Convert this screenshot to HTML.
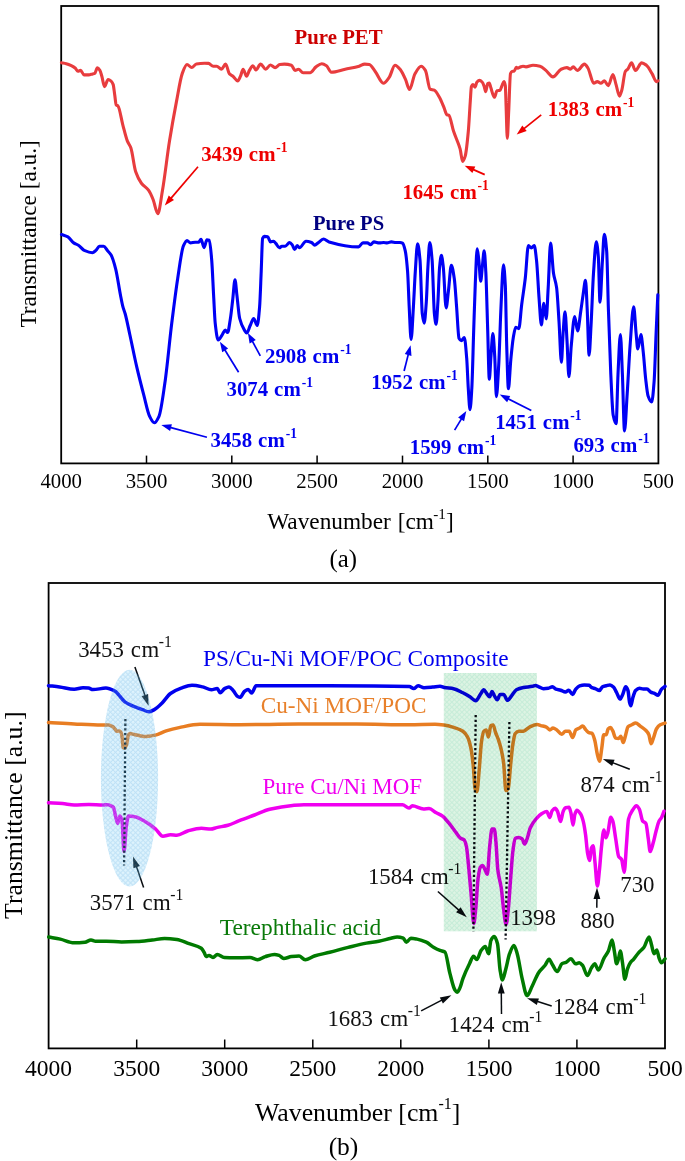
<!DOCTYPE html>
<html><head><meta charset="utf-8"><style>
html,body{margin:0;padding:0;background:#fff;overflow:hidden;}
svg{display:block;}
text{font-family:"Liberation Serif",serif;}
.tk{font-size:20.8px;text-anchor:middle;}
.tkb{font-size:23.5px;text-anchor:middle;}
</style></head><body>
<svg width="685" height="1161" viewBox="0 0 685 1161">
<rect x="61.2" y="6" width="597.2" height="457.4" fill="none" stroke="#000" stroke-width="1.8"/>
<line x1="146.5" y1="463.4" x2="146.5" y2="455.6" stroke="#000" stroke-width="1.5"/>
<line x1="231.8" y1="463.4" x2="231.8" y2="455.6" stroke="#000" stroke-width="1.5"/>
<line x1="317.1" y1="463.4" x2="317.1" y2="455.6" stroke="#000" stroke-width="1.5"/>
<line x1="402.5" y1="463.4" x2="402.5" y2="455.6" stroke="#000" stroke-width="1.5"/>
<line x1="487.8" y1="463.4" x2="487.8" y2="455.6" stroke="#000" stroke-width="1.5"/>
<line x1="573.1" y1="463.4" x2="573.1" y2="455.6" stroke="#000" stroke-width="1.5"/>
<text x="61.2" y="488" class="tk">4000</text>
<text x="146.5" y="488" class="tk">3500</text>
<text x="231.8" y="488" class="tk">3000</text>
<text x="317.1" y="488" class="tk">2500</text>
<text x="402.5" y="488" class="tk">2000</text>
<text x="487.8" y="488" class="tk">1500</text>
<text x="573.1" y="488" class="tk">1000</text>
<text x="658.4" y="488" class="tk">500</text>
<path d="M61.40,62.70 C63.00,63.03 64.60,63.27 66.20,63.70 C67.90,64.16 69.60,64.87 71.30,65.70 C72.67,66.37 74.03,67.14 75.40,68.30 C76.23,69.01 77.07,71.30 77.90,71.30 C78.77,71.30 79.63,70.30 80.50,70.30 C81.70,70.30 82.90,74.90 84.10,74.90 C85.63,74.90 87.17,74.90 88.70,74.90 C90.03,74.90 91.37,74.22 92.70,73.90 C93.40,73.73 94.10,73.69 94.80,73.40 C95.63,73.05 96.47,67.80 97.30,67.80 C98.17,67.80 99.03,69.00 99.90,70.30 C100.57,71.30 101.23,74.20 101.90,76.50 C102.77,79.49 103.63,86.70 104.50,86.70 C105.70,86.70 106.90,79.50 108.10,79.50 C109.10,79.50 110.10,80.27 111.10,81.10 C111.80,81.68 112.50,82.66 113.20,84.60 C113.70,85.99 114.20,91.42 114.70,94.80 C115.20,98.18 115.70,104.33 116.20,104.90 C116.80,105.59 117.40,105.43 118.00,106.00 C119.60,107.52 121.20,118.85 122.80,124.80 C124.33,130.50 125.87,137.23 127.40,141.10 C128.57,144.05 129.73,144.84 130.90,148.10 C132.47,152.48 134.03,166.93 135.60,171.50 C137.53,177.13 139.47,180.61 141.40,183.20 C143.77,186.37 146.13,186.98 148.50,190.20 C150.03,192.28 151.57,195.80 153.10,199.50 C154.67,203.28 156.23,213.60 157.80,213.60 C159.37,213.60 160.93,199.22 162.50,190.20 C164.83,176.76 167.17,155.73 169.50,141.10 C171.83,126.47 174.17,113.54 176.50,101.40 C178.43,91.34 180.37,78.58 182.30,73.40 C183.87,69.20 185.43,64.50 187.00,64.50 C188.57,64.50 190.13,67.50 191.70,67.50 C193.27,67.50 194.83,64.26 196.40,64.00 C199.10,63.55 201.80,63.30 204.50,63.30 C205.83,63.30 207.17,63.34 208.50,63.40 C210.07,63.47 211.63,66.20 213.20,66.20 C214.37,66.20 215.53,66.20 216.70,66.20 C218.27,66.20 219.83,69.20 221.40,69.20 C222.80,69.20 224.20,64.10 225.60,64.10 C226.90,64.10 228.20,72.56 229.50,73.90 C230.67,75.10 231.83,75.28 233.00,76.20 C234.57,77.43 236.13,80.90 237.70,80.90 C238.63,80.90 239.57,78.14 240.50,76.20 C241.37,74.40 242.23,69.20 243.10,69.20 C244.27,69.20 245.43,76.20 246.60,76.20 C247.53,76.20 248.47,71.93 249.40,70.40 C250.57,68.48 251.73,65.70 252.90,65.70 C253.90,65.70 254.90,69.90 255.90,69.90 C257.47,69.90 259.03,64.10 260.60,64.10 C262.30,64.10 264.00,69.20 265.70,69.20 C267.27,69.20 268.83,65.00 270.40,65.00 C271.97,65.00 273.53,67.60 275.10,67.60 C276.67,67.60 278.23,64.74 279.80,64.50 C281.33,64.27 282.87,64.10 284.40,64.10 C286.73,64.10 289.07,64.48 291.40,65.20 C292.60,65.57 293.80,70.40 295.00,70.40 C296.17,70.40 297.33,69.20 298.50,69.20 C300.03,69.20 301.57,72.70 303.10,72.70 C305.43,72.70 307.77,72.70 310.10,72.70 C312.07,72.70 314.03,68.26 316.00,66.90 C317.93,65.56 319.87,63.80 321.80,63.80 C323.37,63.80 324.93,64.72 326.50,65.70 C328.07,66.68 329.63,72.20 331.20,72.20 C335.87,72.20 340.53,70.20 345.20,69.20 C349.87,68.20 354.53,67.54 359.20,66.20 C361.03,65.68 362.87,64.10 364.70,64.10 C366.23,64.10 367.77,64.26 369.30,64.50 C371.27,64.81 373.23,68.96 375.20,71.50 C377.93,75.02 380.67,83.20 383.40,83.20 C385.33,83.20 387.27,80.02 389.20,77.40 C391.13,74.78 393.07,65.20 395.00,65.20 C396.97,65.20 398.93,67.97 400.90,70.40 C402.47,72.34 404.03,76.22 405.60,79.70 C406.90,82.59 408.20,89.50 409.50,89.50 C411.30,89.50 413.10,77.02 414.90,73.90 C417.00,70.25 419.10,66.20 421.20,66.20 C422.60,66.20 424.00,68.19 425.40,70.40 C426.97,72.88 428.53,88.34 430.10,89.10 C431.50,89.78 432.90,89.60 434.30,90.20 C436.00,90.93 437.70,94.29 439.40,97.20 C440.97,99.88 442.53,104.07 444.10,107.80 C445.03,110.02 445.97,114.46 446.90,114.80 C447.53,115.03 448.17,114.98 448.80,115.20 C450.37,115.75 451.93,126.45 453.50,131.10 C455.37,136.64 457.23,140.39 459.10,145.80 C459.43,146.77 459.77,147.68 460.10,148.90 C460.97,152.07 461.83,161.50 462.70,161.50 C463.53,161.50 464.37,158.87 465.20,156.10 C466.23,152.66 467.27,142.54 468.30,131.50 C468.97,124.38 469.63,110.32 470.30,101.00 C470.67,95.87 471.03,87.57 471.40,86.60 C471.90,85.28 472.40,84.50 472.90,84.50 C473.57,84.50 474.23,87.10 474.90,87.10 C475.60,87.10 476.30,82.72 477.00,82.00 C477.83,81.14 478.67,80.40 479.50,80.40 C480.37,80.40 481.23,81.16 482.10,82.00 C482.77,82.65 483.43,84.36 484.10,86.10 C484.63,87.49 485.17,91.70 485.70,91.70 C486.37,91.70 487.03,83.88 487.70,83.50 C488.23,83.20 488.77,83.00 489.30,83.00 C489.80,83.00 490.30,86.15 490.80,87.60 C492.00,91.07 493.20,97.30 494.40,97.30 C495.27,97.30 496.13,90.98 497.00,90.70 C498.00,90.38 499.00,90.53 500.00,90.20 C500.67,89.98 501.33,87.08 502.00,85.60 C502.63,84.19 503.27,81.50 503.90,81.50 C504.37,81.50 504.83,82.96 505.30,85.60 C505.57,87.11 505.83,99.13 506.10,106.10 C506.50,116.56 506.90,138.20 507.30,138.20 C507.77,138.20 508.23,120.46 508.70,111.10 C509.30,99.06 509.90,74.89 510.50,73.50 C511.07,72.19 511.63,71.60 512.20,71.40 C512.87,71.17 513.53,71.24 514.20,71.00 C514.90,70.75 515.60,67.40 516.30,67.40 C516.80,67.40 517.30,68.20 517.80,68.20 C518.63,68.20 519.47,67.31 520.30,67.00 C521.20,66.67 522.10,66.20 523.00,66.20 C524.00,66.20 525.00,66.90 526.00,66.90 C528.33,66.90 530.67,65.20 533.00,65.20 C535.33,65.20 537.67,65.63 540.00,66.20 C541.97,66.68 543.93,68.82 545.90,70.40 C548.23,72.27 550.57,76.90 552.90,76.90 C555.63,76.90 558.37,70.33 561.10,69.20 C563.03,68.40 564.97,67.60 566.90,67.60 C568.07,67.60 569.23,69.20 570.40,69.20 C571.33,69.20 572.27,66.90 573.20,66.90 C574.60,66.90 576.00,70.40 577.40,70.40 C579.73,70.40 582.07,64.10 584.40,64.10 C585.57,64.10 586.73,66.24 587.90,68.00 C589.87,70.96 591.83,83.20 593.80,83.20 C594.97,83.20 596.13,81.60 597.30,81.60 C598.47,81.60 599.63,83.20 600.80,83.20 C601.97,83.20 603.13,80.90 604.30,80.90 C605.63,80.90 606.97,85.60 608.30,85.60 C609.83,85.60 611.37,74.60 612.90,74.60 C613.93,74.60 614.97,81.04 616.00,84.40 C617.17,88.19 618.33,96.10 619.50,96.10 C620.27,96.10 621.03,92.79 621.80,90.20 C622.97,86.25 624.13,73.32 625.30,71.50 C626.10,70.25 626.90,70.14 627.70,69.20 C629.00,67.67 630.30,62.90 631.60,62.90 C632.87,62.90 634.13,70.40 635.40,70.40 C637.50,70.40 639.60,62.90 641.70,62.90 C643.27,62.90 644.83,64.06 646.40,65.20 C648.33,66.60 650.27,70.69 652.20,73.90 C653.60,76.22 655.00,81.60 656.40,81.60 C656.93,81.60 657.47,81.13 658.00,80.90" fill="none" stroke="#e83c3e" stroke-width="3.1" stroke-linejoin="round" stroke-linecap="round"/>
<path d="M61.50,234.50 C63.63,235.27 65.77,235.65 67.90,236.80 C69.83,237.84 71.77,241.62 73.70,242.90 C75.27,243.93 76.83,244.22 78.40,245.20 C80.33,246.41 82.27,249.55 84.20,250.40 C86.93,251.60 89.67,252.70 92.40,252.70 C93.57,252.70 94.73,251.39 95.90,250.40 C97.07,249.41 98.23,246.20 99.40,246.20 C100.80,246.20 102.20,246.20 103.60,246.20 C104.93,246.20 106.27,249.23 107.60,250.80 C108.77,252.17 109.93,253.03 111.10,255.00 C112.63,257.59 114.17,263.08 115.70,269.10 C117.27,275.25 118.83,286.81 120.40,294.80 C121.20,298.88 122.00,303.39 122.80,306.40 C123.57,309.28 124.33,310.76 125.10,313.50 C126.67,319.10 128.23,327.35 129.80,334.50 C132.13,345.14 134.47,357.14 136.80,367.20 C139.13,377.26 141.47,386.32 143.80,395.20 C145.73,402.56 147.67,412.49 149.60,416.30 C151.17,419.39 152.73,422.80 154.30,422.80 C155.87,422.80 157.43,419.71 159.00,416.30 C160.93,412.09 162.87,396.73 164.80,383.60 C167.13,367.75 169.47,341.58 171.80,322.80 C173.77,306.97 175.73,291.07 177.70,278.40 C179.63,265.94 181.57,249.97 183.50,245.70 C184.67,243.12 185.83,240.60 187.00,240.60 C188.17,240.60 189.33,242.90 190.50,242.90 C192.07,242.90 193.63,242.20 195.20,242.20 C196.37,242.20 197.53,242.20 198.70,242.20 C199.47,242.20 200.23,239.20 201.00,239.20 C202.03,239.20 203.07,247.60 204.10,247.60 C205.03,247.60 205.97,239.90 206.90,239.90 C207.70,239.90 208.50,240.00 209.30,240.20 C210.10,240.40 210.90,250.74 211.70,260.00 C212.33,267.33 212.97,283.73 213.60,295.10 C214.13,304.68 214.67,318.30 215.20,323.10 C216.20,332.09 217.20,340.00 218.20,340.00 C219.53,340.00 220.87,336.70 222.20,334.80 C223.20,333.37 224.20,330.10 225.20,330.10 C226.00,330.10 226.80,332.50 227.60,332.50 C228.53,332.50 229.47,324.32 230.40,318.50 C231.17,313.72 231.93,306.23 232.70,299.80 C233.47,293.37 234.23,279.90 235.00,279.90 C235.63,279.90 236.27,289.93 236.90,295.10 C237.83,302.72 238.77,314.77 239.70,318.50 C241.27,324.76 242.83,327.58 244.40,330.10 C245.17,331.33 245.93,333.00 246.70,333.00 C247.87,333.00 249.03,327.91 250.20,325.50 C251.37,323.09 252.53,318.50 253.70,318.50 C254.87,318.50 256.03,325.50 257.20,325.50 C258.00,325.50 258.80,316.30 259.60,306.80 C260.13,300.47 260.67,283.88 261.20,271.70 C261.67,261.04 262.13,239.43 262.60,238.40 C263.20,237.08 263.80,236.40 264.40,236.40 C265.50,236.40 266.60,236.54 267.70,236.80 C268.63,237.02 269.57,241.90 270.50,241.90 C271.53,241.90 272.57,241.20 273.60,241.20 C274.33,241.20 275.07,242.59 275.80,243.40 C276.97,244.69 278.13,247.80 279.30,247.80 C280.17,247.80 281.03,246.20 281.90,246.20 C283.00,246.20 284.10,246.20 285.20,246.20 C286.67,246.20 288.13,242.50 289.60,242.50 C290.53,242.50 291.47,243.90 292.40,245.10 C293.13,246.04 293.87,249.50 294.60,249.50 C295.47,249.50 296.33,245.60 297.20,245.60 C297.93,245.60 298.67,247.80 299.40,247.80 C301.60,247.80 303.80,241.20 306.00,241.20 C307.83,241.20 309.67,241.79 311.50,242.50 C312.57,242.91 313.63,245.10 314.70,245.10 C315.80,245.10 316.90,243.65 318.00,242.90 C319.83,241.64 321.67,239.00 323.50,239.00 C325.33,239.00 327.17,241.37 329.00,241.90 C338.83,244.76 348.67,246.90 358.50,246.90 C359.97,246.90 361.43,242.90 362.90,242.90 C364.37,242.90 365.83,242.90 367.30,242.90 C368.40,242.90 369.50,244.70 370.60,244.70 C371.70,244.70 372.80,241.90 373.90,241.90 C375.70,241.90 377.50,242.90 379.30,242.90 C380.77,242.90 382.23,242.50 383.70,242.50 C384.80,242.50 385.90,242.90 387.00,242.90 C388.47,242.90 389.93,241.90 391.40,241.90 C392.87,241.90 394.33,242.50 395.80,242.50 C397.23,242.50 398.67,242.50 400.10,242.50 C400.90,242.50 401.70,242.78 402.50,243.20 C403.40,243.67 404.30,246.87 405.20,250.70 C406.00,254.11 406.80,261.40 407.60,271.70 C408.13,278.57 408.67,296.48 409.20,306.80 C409.83,319.06 410.47,339.50 411.10,339.50 C411.87,339.50 412.63,319.17 413.40,306.80 C414.03,296.58 414.67,281.06 415.30,271.70 C416.07,260.37 416.83,243.70 417.60,243.70 C418.40,243.70 419.20,251.55 420.00,260.00 C420.77,268.10 421.53,307.72 422.30,313.80 C422.93,318.82 423.57,323.10 424.20,323.10 C424.90,323.10 425.60,311.87 426.30,302.10 C426.83,294.65 427.37,275.84 427.90,267.10 C428.53,256.72 429.17,242.50 429.80,242.50 C430.57,242.50 431.33,251.20 432.10,260.00 C432.87,268.80 433.63,306.52 434.40,313.80 C434.97,319.18 435.53,324.30 436.10,324.30 C436.70,324.30 437.30,311.38 437.90,302.10 C438.47,293.34 439.03,272.73 439.60,267.10 C440.20,261.14 440.80,255.40 441.40,255.40 C442.03,255.40 442.67,261.76 443.30,267.10 C444.23,274.98 445.17,307.90 446.10,307.90 C446.90,307.90 447.70,296.83 448.50,290.40 C449.43,282.90 450.37,265.20 451.30,265.20 C452.30,265.20 453.30,271.99 454.30,278.70 C455.07,283.85 455.83,297.10 456.60,306.80 C457.40,316.92 458.20,336.76 459.00,338.30 C459.77,339.77 460.53,340.70 461.30,340.70 C462.30,340.70 463.30,337.60 464.30,337.60 C465.10,337.60 465.90,348.50 466.70,358.20 C467.23,364.67 467.77,380.60 468.30,388.60 C468.87,397.10 469.43,409.60 470.00,409.60 C470.60,409.60 471.20,398.71 471.80,388.60 C472.43,377.93 473.07,349.06 473.70,330.10 C474.23,314.13 474.77,295.44 475.30,283.40 C475.93,269.10 476.57,248.80 477.20,248.80 C477.73,248.80 478.27,255.45 478.80,260.00 C479.43,265.40 480.07,281.10 480.70,281.10 C481.23,281.10 481.77,271.74 482.30,267.10 C482.93,261.60 483.57,250.70 484.20,250.70 C484.73,250.70 485.27,262.00 485.80,271.70 C486.43,283.22 487.07,310.65 487.70,330.10 C488.23,346.48 488.77,379.20 489.30,379.20 C489.87,379.20 490.43,362.97 491.00,355.80 C491.63,347.78 492.27,333.60 492.90,333.60 C493.50,333.60 494.10,345.99 494.70,355.80 C495.27,365.07 495.83,396.70 496.40,396.70 C497.17,396.70 497.93,378.84 498.70,365.20 C499.47,351.56 500.23,322.37 501.00,306.80 C501.83,289.88 502.67,264.70 503.50,264.70 C504.10,264.70 504.70,274.13 505.30,285.20 C505.77,293.81 506.23,330.33 506.70,345.40 C507.27,363.71 507.83,388.80 508.40,388.80 C509.20,388.80 510.00,368.16 510.80,359.90 C511.60,351.64 512.40,342.89 513.20,338.20 C514.03,333.32 514.87,327.40 515.70,327.40 C516.73,327.40 517.77,328.60 518.80,328.60 C519.77,328.60 520.73,312.06 521.70,304.50 C522.90,295.11 524.10,288.42 525.30,278.00 C526.33,269.02 527.37,245.50 528.40,245.50 C529.37,245.50 530.33,247.90 531.30,247.90 C532.27,247.90 533.23,245.50 534.20,245.50 C535.00,245.50 535.80,253.83 536.60,261.10 C537.40,268.37 538.20,286.84 539.00,297.30 C539.80,307.76 540.60,325.00 541.40,325.00 C542.20,325.00 543.00,303.30 543.80,303.30 C544.60,303.30 545.40,318.90 546.20,318.90 C546.87,318.90 547.53,298.89 548.20,287.60 C549.00,274.06 549.80,243.10 550.60,243.10 C551.57,243.10 552.53,266.97 553.50,273.20 C554.53,279.86 555.57,280.23 556.60,287.60 C557.40,293.31 558.20,308.97 559.00,321.30 C559.80,333.63 560.60,362.30 561.40,362.30 C561.97,362.30 562.53,341.17 563.10,333.40 C563.73,324.72 564.37,311.70 565.00,311.70 C565.67,311.70 566.33,329.64 567.00,340.60 C567.63,351.01 568.27,376.70 568.90,376.70 C569.70,376.70 570.50,353.73 571.30,345.40 C572.43,333.59 573.57,316.50 574.70,316.50 C575.67,316.50 576.63,331.00 577.60,331.00 C578.63,331.00 579.67,318.55 580.70,311.70 C581.50,306.40 582.30,299.98 583.10,294.80 C583.90,289.62 584.70,280.40 585.50,280.40 C586.07,280.40 586.63,298.04 587.20,309.30 C587.83,321.89 588.47,355.10 589.10,355.10 C589.73,355.10 590.37,337.33 591.00,326.20 C591.83,311.55 592.67,285.47 593.50,273.20 C594.43,259.46 595.37,241.90 596.30,241.90 C596.97,241.90 597.63,248.60 598.30,256.30 C598.87,262.84 599.43,302.10 600.00,302.10 C600.80,302.10 601.60,273.44 602.40,261.10 C603.03,251.33 603.67,234.20 604.30,234.20 C605.10,234.20 605.90,241.62 606.70,251.50 C607.27,258.50 607.83,292.10 608.40,309.30 C609.20,333.58 610.00,357.54 610.80,374.30 C611.60,391.06 612.40,411.25 613.20,415.30 C614.17,420.20 615.13,423.70 616.10,423.70 C616.73,423.70 617.37,387.22 618.00,374.30 C618.80,357.98 619.60,334.60 620.40,334.60 C621.07,334.60 621.73,359.08 622.40,374.30 C623.10,390.28 623.80,430.90 624.50,430.90 C625.40,430.90 626.30,407.16 627.20,393.60 C628.17,379.03 629.13,358.08 630.10,345.40 C631.30,329.66 632.50,306.90 633.70,306.90 C634.50,306.90 635.30,325.42 636.10,333.40 C636.67,339.05 637.23,349.00 637.80,349.00 C638.83,349.00 639.87,334.60 640.90,334.60 C641.70,334.60 642.50,345.45 643.30,352.60 C644.10,359.75 644.90,372.22 645.70,379.10 C646.50,385.98 647.30,393.75 648.10,396.00 C649.30,399.37 650.50,402.00 651.70,402.00 C652.50,402.00 653.30,391.80 654.10,381.60 C654.77,373.10 655.43,348.98 656.10,333.40 C656.67,320.16 657.23,307.67 657.80,294.80" fill="none" stroke="#0000f5" stroke-width="3.1" stroke-linejoin="round" stroke-linecap="round"/>
<rect x="48.6" y="583" width="616.4" height="465.4" fill="none" stroke="#000" stroke-width="1.8"/>
<line x1="136.7" y1="1048.4" x2="136.7" y2="1039.5" stroke="#000" stroke-width="1.5"/>
<line x1="224.7" y1="1048.4" x2="224.7" y2="1039.5" stroke="#000" stroke-width="1.5"/>
<line x1="312.8" y1="1048.4" x2="312.8" y2="1039.5" stroke="#000" stroke-width="1.5"/>
<line x1="400.8" y1="1048.4" x2="400.8" y2="1039.5" stroke="#000" stroke-width="1.5"/>
<line x1="488.9" y1="1048.4" x2="488.9" y2="1039.5" stroke="#000" stroke-width="1.5"/>
<line x1="576.9" y1="1048.4" x2="576.9" y2="1039.5" stroke="#000" stroke-width="1.5"/>
<text x="48.6" y="1076" class="tkb">4000</text>
<text x="136.7" y="1076" class="tkb">3500</text>
<text x="224.7" y="1076" class="tkb">3000</text>
<text x="312.8" y="1076" class="tkb">2500</text>
<text x="400.8" y="1076" class="tkb">2000</text>
<text x="488.9" y="1076" class="tkb">1500</text>
<text x="576.9" y="1076" class="tkb">1000</text>
<text x="665.0" y="1076" class="tkb">500</text>
<path d="M48.50,685.70 C52.20,686.10 55.90,686.43 59.60,686.90 C64.47,687.52 69.33,689.20 74.20,689.20 C77.13,689.20 80.07,687.80 83.00,687.80 C84.87,687.80 86.73,687.92 88.60,688.10 C90.03,688.24 91.47,689.60 92.90,689.60 C97.23,689.60 101.57,688.10 105.90,688.10 C108.77,688.10 111.63,689.50 114.50,690.90 C118.07,692.64 121.63,699.73 125.20,702.10 C128.10,704.02 131.00,705.17 133.90,706.40 C136.77,707.62 139.63,708.58 142.50,709.60 C144.63,710.36 146.77,711.80 148.90,711.80 C150.70,711.80 152.50,710.57 154.30,709.60 C156.83,708.24 159.37,705.64 161.90,703.20 C164.77,700.44 167.63,695.53 170.50,693.50 C174.07,690.98 177.63,689.32 181.20,688.10 C184.80,686.87 188.40,685.30 192.00,685.30 C195.57,685.30 199.13,686.15 202.70,686.90 C205.60,687.51 208.50,689.80 211.40,689.80 C213.37,689.80 215.33,688.60 217.30,688.60 C218.27,688.60 219.23,692.70 220.20,692.70 C221.67,692.70 223.13,689.40 224.60,688.60 C226.07,687.80 227.53,686.90 229.00,686.90 C230.43,686.90 231.87,689.18 233.30,690.70 C234.77,692.25 236.23,695.74 237.70,696.50 C238.47,696.90 239.23,697.30 240.00,697.30 C241.47,697.30 242.93,692.63 244.40,691.50 C245.67,690.52 246.93,689.40 248.20,689.40 C249.37,689.40 250.53,693.00 251.70,693.00 C253.17,693.00 254.63,685.70 256.10,685.70 C260.47,685.70 264.83,685.70 269.20,685.70 C288.67,685.70 308.13,685.70 327.60,685.70 C354.83,685.70 382.07,685.77 409.30,686.50 C410.77,686.54 412.23,688.60 413.70,688.60 C415.17,688.60 416.63,685.70 418.10,685.70 C420.07,685.70 422.03,687.70 424.00,687.70 C426.90,687.70 429.80,687.36 432.70,687.10 C435.13,686.88 437.57,686.20 440.00,686.20 C441.43,686.20 442.87,687.23 444.30,687.50 C447.40,688.09 450.50,688.08 453.60,688.70 C456.70,689.32 459.80,691.25 462.90,692.80 C465.23,693.97 467.57,695.35 469.90,696.80 C471.83,698.00 473.77,700.70 475.70,700.70 C477.23,700.70 478.77,696.56 480.30,694.50 C481.47,692.93 482.63,689.80 483.80,689.80 C484.73,689.80 485.67,692.19 486.60,693.30 C487.63,694.53 488.67,696.80 489.70,696.80 C490.47,696.80 491.23,691.40 492.00,691.40 C492.77,691.40 493.53,694.38 494.30,695.60 C495.30,697.19 496.30,699.80 497.30,699.80 C498.23,699.80 499.17,694.50 500.10,694.50 C501.27,694.50 502.43,694.50 503.60,694.50 C504.93,694.50 506.27,700.30 507.60,700.30 C508.97,700.30 510.33,697.22 511.70,695.60 C513.27,693.74 514.83,690.65 516.40,689.80 C518.73,688.54 521.07,687.94 523.40,687.50 C526.50,686.91 529.60,686.92 532.70,686.30 C533.63,686.11 534.57,685.40 535.50,685.40 C536.60,685.40 537.70,686.34 538.80,686.80 C540.37,687.45 541.93,688.70 543.50,688.70 C545.10,688.70 546.70,688.52 548.30,688.30 C549.70,688.11 551.10,686.80 552.50,686.80 C553.63,686.80 554.77,688.70 555.90,689.10 C557.47,689.66 559.03,689.74 560.60,690.20 C562.20,690.67 563.80,692.10 565.40,692.10 C566.53,692.10 567.67,690.20 568.80,690.20 C570.07,690.20 571.33,694.40 572.60,694.40 C573.67,694.40 574.73,690.33 575.80,689.10 C577.07,687.64 578.33,686.21 579.60,685.80 C581.17,685.30 582.73,684.90 584.30,684.90 C585.90,684.90 587.50,685.04 589.10,685.30 C590.03,685.45 590.97,687.28 591.90,687.70 C593.03,688.20 594.17,688.30 595.30,688.70 C596.70,689.20 598.10,690.60 599.50,690.60 C600.47,690.60 601.43,687.24 602.40,686.80 C603.67,686.23 604.93,686.12 606.20,685.80 C607.47,685.48 608.73,684.90 610.00,684.90 C611.23,684.90 612.47,686.03 613.70,687.20 C614.67,688.11 615.63,690.68 616.60,692.50 C617.73,694.63 618.87,699.10 620.00,699.10 C620.90,699.10 621.80,696.25 622.70,694.40 C623.70,692.34 624.70,686.80 625.70,686.80 C626.47,686.80 627.23,688.42 628.00,690.60 C628.50,692.02 629.00,699.91 629.50,702.00 C629.93,703.81 630.37,705.80 630.80,705.80 C631.43,705.80 632.07,700.23 632.70,698.20 C633.67,695.09 634.63,691.58 635.60,690.60 C636.87,689.32 638.13,688.30 639.40,688.30 C640.67,688.30 641.93,689.10 643.20,689.10 C644.47,689.10 645.73,689.10 647.00,689.10 C648.27,689.10 649.53,691.49 650.80,692.10 C652.03,692.70 653.27,692.87 654.50,693.40 C655.67,693.90 656.83,695.30 658.00,695.30 C659.07,695.30 660.13,690.83 661.20,689.60 C662.47,688.14 663.73,687.47 665.00,686.40" fill="none" stroke="#0000ee" stroke-width="3.5" stroke-linejoin="round" stroke-linecap="round"/>
<path d="M48.50,722.40 C57.07,722.90 65.63,723.49 74.20,723.90 C83.30,724.33 92.40,725.00 101.50,725.00 C103.83,725.00 106.17,724.90 108.50,724.90 C109.87,724.90 111.23,725.77 112.60,726.60 C113.37,727.07 114.13,728.02 114.90,728.90 C115.50,729.59 116.10,731.30 116.70,731.30 C117.57,731.30 118.43,731.00 119.30,731.00 C119.90,731.00 120.50,731.55 121.10,732.40 C121.47,732.92 121.83,735.23 122.20,737.70 C122.50,739.72 122.80,747.07 123.10,747.40 C123.60,747.95 124.10,748.20 124.60,748.20 C125.27,748.20 125.93,746.49 126.60,744.70 C127.20,743.09 127.80,735.55 128.40,734.80 C128.97,734.10 129.53,733.60 130.10,733.60 C131.47,733.60 132.83,734.21 134.20,734.50 C136.13,734.91 138.07,735.33 140.00,735.70 C141.67,736.02 143.33,736.60 145.00,736.60 C146.30,736.60 147.60,736.36 148.90,736.20 C151.07,735.93 153.23,735.60 155.40,735.10 C159.00,734.27 162.60,731.91 166.20,730.80 C170.50,729.48 174.80,728.44 179.10,727.60 C186.07,726.23 193.03,724.30 200.00,724.30 C213.33,724.30 226.67,724.70 240.00,724.70 C259.47,724.70 278.93,724.10 298.40,724.10 C317.87,724.10 337.33,724.10 356.80,724.10 C374.30,724.10 391.80,724.70 409.30,724.70 C417.87,724.70 426.43,724.30 435.00,724.30 C437.93,724.30 440.87,724.65 443.80,725.00 C447.07,725.38 450.33,726.31 453.60,727.30 C456.70,728.24 459.80,729.21 462.90,731.30 C464.47,732.36 466.03,734.19 467.60,737.10 C468.73,739.21 469.87,743.21 471.00,748.70 C471.80,752.58 472.60,759.37 473.40,767.30 C473.93,772.59 474.47,786.58 475.00,788.30 C475.63,790.34 476.27,791.70 476.90,791.70 C477.67,791.70 478.43,777.91 479.20,769.70 C479.97,761.49 480.73,746.76 481.50,741.70 C482.27,736.64 483.03,731.99 483.80,731.30 C484.60,730.58 485.40,730.10 486.20,730.10 C486.97,730.10 487.73,737.10 488.50,737.10 C489.27,737.10 490.03,725.82 490.80,725.50 C491.57,725.18 492.33,725.00 493.10,725.00 C493.90,725.00 494.70,730.19 495.50,732.40 C496.43,734.98 497.37,736.68 498.30,739.40 C499.30,742.31 500.30,745.56 501.30,749.90 C502.07,753.23 502.83,756.85 503.60,762.70 C504.37,768.55 505.13,790.60 505.90,790.60 C506.70,790.60 507.50,789.71 508.30,788.30 C509.07,786.95 509.83,772.34 510.60,765.00 C511.37,757.66 512.13,748.76 512.90,744.10 C513.67,739.44 514.43,734.53 515.20,733.60 C516.37,732.19 517.53,731.30 518.70,731.30 C520.27,731.30 521.83,731.30 523.40,731.30 C524.57,731.30 525.73,729.79 526.90,729.00 C528.03,728.23 529.17,727.08 530.30,726.60 C532.63,725.60 534.97,724.60 537.30,724.60 C538.43,724.60 539.57,725.28 540.70,725.60 C542.60,726.13 544.50,726.31 546.40,727.10 C547.53,727.57 548.67,729.90 549.80,729.90 C550.87,729.90 551.93,728.00 553.00,728.00 C554.27,728.00 555.53,729.09 556.80,729.90 C558.40,730.92 560.00,734.30 561.60,734.30 C562.87,734.30 564.13,731.30 565.40,731.30 C566.67,731.30 567.93,731.30 569.20,731.30 C570.33,731.30 571.47,737.50 572.60,737.50 C573.67,737.50 574.73,730.80 575.80,729.90 C577.07,728.83 578.33,728.69 579.60,728.00 C580.67,727.42 581.73,726.10 582.80,726.10 C583.83,726.10 584.87,728.82 585.90,729.90 C586.97,731.01 588.03,732.60 589.10,732.80 C590.03,732.98 590.97,732.91 591.90,733.10 C592.87,733.30 593.83,737.02 594.80,740.40 C595.60,743.20 596.40,750.30 597.20,753.60 C597.97,756.76 598.73,761.20 599.50,761.20 C600.27,761.20 601.03,752.85 601.80,748.00 C602.43,743.99 603.07,734.70 603.70,734.70 C604.53,734.70 605.37,734.70 606.20,734.70 C606.83,734.70 607.47,729.67 608.10,729.00 C608.90,728.15 609.70,727.50 610.50,727.50 C611.27,727.50 612.03,729.47 612.80,730.90 C613.73,732.64 614.67,737.85 615.60,738.10 C616.57,738.35 617.53,738.50 618.50,738.50 C619.27,738.50 620.03,736.20 620.80,736.20 C621.60,736.20 622.40,742.60 623.20,742.60 C624.03,742.60 624.87,737.46 625.70,734.70 C626.47,732.16 627.23,727.41 628.00,726.70 C629.27,725.52 630.53,725.43 631.80,724.80 C633.07,724.17 634.33,722.90 635.60,722.90 C637.17,722.90 638.73,724.97 640.30,726.10 C642.20,727.47 644.10,728.52 646.00,730.50 C646.97,731.51 647.93,732.58 648.90,734.70 C649.63,736.31 650.37,743.80 651.10,743.80 C651.93,743.80 652.77,739.79 653.60,737.50 C654.53,734.93 655.47,730.55 656.40,729.00 C657.67,726.90 658.93,725.49 660.20,724.80 C661.80,723.92 663.40,723.67 665.00,723.10" fill="none" stroke="#e87d22" stroke-width="3.5" stroke-linejoin="round" stroke-linecap="round"/>
<path d="M48.50,802.70 C53.17,803.00 57.83,803.21 62.50,803.60 C66.40,803.93 70.30,805.00 74.20,805.00 C79.07,805.00 83.93,804.50 88.80,804.50 C93.67,804.50 98.53,805.00 103.40,805.00 C104.93,805.00 106.47,804.70 108.00,804.70 C109.40,804.70 110.80,805.74 112.20,806.50 C112.60,806.72 113.00,806.87 113.40,807.30 C114.10,808.05 114.80,813.29 115.50,815.90 C116.23,818.63 116.97,823.40 117.70,823.40 C118.43,823.40 119.17,815.90 119.90,815.90 C120.60,815.90 121.30,817.65 122.00,820.20 C122.67,822.63 123.33,851.50 124.00,851.50 C124.77,851.50 125.53,831.73 126.30,826.60 C127.03,821.69 127.77,815.90 128.50,815.90 C131.00,815.90 133.50,816.44 136.00,817.00 C138.87,817.64 141.73,819.64 144.60,821.30 C148.20,823.38 151.80,825.82 155.40,828.80 C157.90,830.87 160.40,836.30 162.90,836.30 C165.43,836.30 167.97,834.80 170.50,834.80 C172.63,834.80 174.77,835.30 176.90,835.30 C180.50,835.30 184.10,831.96 187.70,831.00 C192.27,829.78 196.83,828.30 201.40,828.30 C204.57,828.30 207.73,829.10 210.90,829.10 C212.80,829.10 214.70,828.04 216.60,827.60 C220.40,826.72 224.20,826.33 228.00,825.30 C231.77,824.28 235.53,822.17 239.30,820.70 C244.37,818.72 249.43,816.90 254.50,815.00 C259.57,813.10 264.63,810.50 269.70,809.30 C277.30,807.50 284.90,806.15 292.50,805.50 C296.30,805.18 300.10,804.80 303.90,804.80 C316.53,804.80 329.17,804.80 341.80,804.80 C354.47,804.80 367.13,804.80 379.80,804.80 C387.37,804.80 394.93,804.80 402.50,804.80 C404.67,804.80 406.83,808.00 409.00,808.00 C410.10,808.00 411.20,805.80 412.30,805.80 C416.03,805.80 419.77,809.00 423.50,809.00 C425.37,809.00 427.23,808.60 429.10,808.60 C431.50,808.60 433.90,811.50 436.30,812.80 C438.20,813.83 440.10,814.41 442.00,815.70 C444.33,817.28 446.67,820.33 449.00,823.10 C451.30,825.83 453.60,829.42 455.90,832.40 C457.47,834.43 459.03,837.27 460.60,838.30 C461.77,839.06 462.93,838.93 464.10,839.90 C464.87,840.53 465.63,843.09 466.40,846.40 C467.17,849.71 467.93,859.63 468.70,867.30 C469.47,874.97 470.23,884.44 471.00,892.90 C471.93,903.20 472.87,923.50 473.80,923.50 C474.43,923.50 475.07,915.21 475.70,909.20 C476.47,901.93 477.23,884.62 478.00,879.00 C478.77,873.38 479.53,868.31 480.30,867.30 C481.10,866.25 481.90,865.50 482.70,865.50 C483.47,865.50 484.23,868.24 485.00,869.70 C485.77,871.16 486.53,874.30 487.30,874.30 C488.10,874.30 488.90,853.72 489.70,846.40 C490.47,839.38 491.23,829.00 492.00,829.00 C492.77,829.00 493.53,829.00 494.30,829.00 C494.83,829.00 495.37,836.24 495.90,841.70 C496.53,848.18 497.17,864.51 497.80,869.70 C498.97,879.26 500.13,880.33 501.30,888.30 C502.07,893.54 502.83,903.56 503.60,909.20 C504.43,915.34 505.27,924.60 506.10,924.60 C506.83,924.60 507.57,915.88 508.30,909.20 C509.07,902.21 509.83,888.69 510.60,879.00 C511.37,869.31 512.13,856.82 512.90,851.00 C513.67,845.18 514.43,838.62 515.20,838.30 C516.37,837.82 517.53,837.60 518.70,837.60 C519.87,837.60 521.03,838.17 522.20,839.00 C522.97,839.55 523.73,844.10 524.50,844.10 C525.30,844.10 526.10,841.36 526.90,839.40 C528.03,836.62 529.17,830.30 530.30,827.80 C532.17,823.69 534.03,821.28 535.90,819.10 C537.87,816.80 539.83,814.69 541.80,813.60 C543.47,812.68 545.13,811.60 546.80,811.60 C547.77,811.60 548.73,817.50 549.70,817.50 C550.50,817.50 551.30,811.83 552.10,810.80 C553.13,809.48 554.17,808.30 555.20,808.30 C556.00,808.30 556.80,810.05 557.60,811.60 C558.57,813.47 559.53,821.50 560.50,821.50 C561.37,821.50 562.23,813.56 563.10,811.60 C563.90,809.79 564.70,807.88 565.50,807.70 C566.67,807.44 567.83,807.30 569.00,807.30 C569.67,807.30 570.33,810.58 571.00,813.20 C571.67,815.82 572.33,825.00 573.00,825.00 C573.63,825.00 574.27,816.05 574.90,814.20 C575.57,812.26 576.23,810.30 576.90,810.30 C578.03,810.30 579.17,811.98 580.30,813.60 C581.27,814.98 582.23,817.61 583.20,821.10 C584.00,823.99 584.80,829.16 585.60,834.90 C586.23,839.45 586.87,849.07 587.50,852.60 C588.17,856.31 588.83,860.50 589.50,860.50 C590.17,860.50 590.83,849.06 591.50,847.70 C592.03,846.61 592.57,845.70 593.10,845.70 C593.73,845.70 594.37,856.63 595.00,862.50 C595.80,869.92 596.60,886.00 597.40,886.00 C598.07,886.00 598.73,876.59 599.40,870.40 C600.03,864.52 600.67,854.36 601.30,848.70 C602.17,840.96 603.03,830.00 603.90,830.00 C604.57,830.00 605.23,837.80 605.90,837.80 C606.53,837.80 607.17,835.03 607.80,832.90 C608.80,829.53 609.80,817.20 610.80,817.20 C611.47,817.20 612.13,819.19 612.80,821.10 C613.77,823.87 614.73,832.98 615.70,838.80 C616.70,844.82 617.70,854.90 618.70,856.60 C619.67,858.25 620.63,857.87 621.60,859.50 C622.47,860.96 623.33,872.30 624.20,872.30 C625.00,872.30 625.80,852.71 626.60,842.80 C627.23,834.96 627.87,821.68 628.50,819.10 C629.83,813.66 631.17,812.34 632.50,810.30 C633.80,808.31 635.10,805.70 636.40,805.70 C637.40,805.70 638.40,807.52 639.40,809.30 C640.50,811.26 641.60,819.74 642.70,821.10 C643.77,822.42 644.83,822.01 645.90,823.50 C646.70,824.62 647.50,833.55 648.30,838.80 C648.93,842.95 649.57,851.60 650.20,851.60 C651.20,851.60 652.20,846.21 653.20,842.80 C654.17,839.50 655.13,834.52 656.10,831.00 C657.10,827.35 658.10,823.14 659.10,821.10 C659.97,819.33 660.83,818.86 661.70,817.20 C662.47,815.73 663.23,813.20 664.00,811.20" fill="none" stroke="#f000f0" stroke-width="3.5" stroke-linejoin="round" stroke-linecap="round"/>
<path d="M48.70,937.00 C52.57,937.70 56.43,938.27 60.30,939.10 C64.90,940.09 69.50,942.80 74.10,942.80 C77.70,942.80 81.30,942.57 84.90,942.20 C86.93,941.99 88.97,940.00 91.00,940.00 C92.53,940.00 94.07,941.30 95.60,941.30 C99.17,941.30 102.73,941.30 106.30,941.30 C111.40,941.30 116.50,941.90 121.60,941.90 C126.73,941.90 131.87,941.77 137.00,941.60 C142.10,941.43 147.20,940.58 152.30,940.00 C156.40,939.54 160.50,938.50 164.60,938.50 C168.67,938.50 172.73,938.90 176.80,939.40 C180.90,939.90 185.00,942.21 189.10,943.70 C193.17,945.18 197.23,945.53 201.30,948.30 C202.33,949.00 203.37,950.99 204.40,952.90 C204.93,953.89 205.47,956.60 206.00,956.60 C207.00,956.60 208.00,955.40 209.00,955.40 C210.33,955.40 211.67,957.50 213.00,957.50 C214.43,957.50 215.87,954.40 217.30,954.40 C219.63,954.40 221.97,957.37 224.30,957.50 C227.90,957.70 231.50,957.80 235.10,957.80 C240.07,957.80 245.03,957.50 250.00,957.50 C252.57,957.50 255.13,959.70 257.70,959.70 C260.23,959.70 262.77,957.37 265.30,956.60 C268.37,955.67 271.43,954.40 274.50,954.40 C276.03,954.40 277.57,954.90 279.10,955.40 C280.63,955.90 282.17,958.40 283.70,958.40 C286.27,958.40 288.83,956.90 291.40,956.60 C293.93,956.30 296.47,956.00 299.00,956.00 C301.07,956.00 303.13,959.70 305.20,959.70 C308.27,959.70 311.33,956.95 314.40,956.00 C319.50,954.43 324.60,953.59 329.70,952.30 C335.83,950.75 341.97,948.93 348.10,947.40 C354.23,945.87 360.37,944.19 366.50,943.10 C370.60,942.37 374.70,942.06 378.80,941.30 C382.87,940.54 386.93,939.09 391.00,938.20 C393.03,937.76 395.07,937.00 397.10,937.00 C399.17,937.00 401.23,937.44 403.30,938.20 C404.30,938.57 405.30,942.20 406.30,942.20 C407.83,942.20 409.37,938.20 410.90,938.20 C412.97,938.20 415.03,938.69 417.10,939.10 C420.17,939.71 423.23,940.80 426.30,942.20 C428.83,943.36 431.37,945.96 433.90,947.40 C435.93,948.56 437.97,949.61 440.00,950.40 C441.63,951.04 443.27,951.01 444.90,952.00 C446.57,953.01 448.23,967.14 449.90,973.40 C451.53,979.53 453.17,987.19 454.80,989.80 C455.53,990.97 456.27,992.30 457.00,992.30 C458.00,992.30 459.00,989.84 460.00,987.80 C461.00,985.76 462.00,980.98 463.00,978.30 C465.20,972.40 467.40,967.92 469.60,963.50 C470.90,960.89 472.20,956.30 473.50,956.30 C474.60,956.30 475.70,959.60 476.80,959.60 C478.23,959.60 479.67,952.29 481.10,950.40 C482.50,948.56 483.90,946.40 485.30,946.40 C486.40,946.40 487.50,953.70 488.60,953.70 C489.37,953.70 490.13,942.06 490.90,940.50 C492.00,938.26 493.10,936.60 494.20,936.60 C495.30,936.60 496.40,939.75 497.50,943.80 C498.37,946.99 499.23,964.95 500.10,970.10 C500.87,974.66 501.63,979.90 502.40,979.90 C503.50,979.90 504.60,973.30 505.70,969.40 C507.00,964.79 508.30,957.11 509.60,953.70 C511.03,949.94 512.47,945.40 513.90,945.40 C515.00,945.40 516.10,950.09 517.20,953.70 C518.83,959.06 520.47,971.58 522.10,978.30 C523.77,985.16 525.43,995.70 527.10,995.70 C528.73,995.70 530.37,989.72 532.00,986.50 C534.20,982.16 536.40,975.94 538.60,972.70 C540.77,969.51 542.93,968.16 545.10,965.30 C546.43,963.54 547.77,959.20 549.10,959.20 C550.23,959.20 551.37,963.07 552.50,964.80 C554.10,967.25 555.70,971.60 557.30,971.60 C558.83,971.60 560.37,964.71 561.90,963.80 C563.27,962.99 564.63,962.95 566.00,962.30 C567.67,961.51 569.33,958.80 571.00,958.80 C572.53,958.80 574.07,963.80 575.60,963.80 C576.80,963.80 578.00,962.80 579.20,962.80 C580.30,962.80 581.40,964.11 582.50,965.30 C584.13,967.07 585.77,975.60 587.40,975.60 C588.77,975.60 590.13,969.84 591.50,967.80 C592.57,966.20 593.63,963.80 594.70,963.80 C595.93,963.80 597.17,970.10 598.40,970.10 C600.23,970.10 602.07,961.67 603.90,958.30 C605.40,955.54 606.90,954.18 608.40,951.00 C609.63,948.39 610.87,940.00 612.10,940.00 C612.83,940.00 613.57,946.95 614.30,950.80 C615.07,954.83 615.83,963.80 616.60,963.80 C617.23,963.80 617.87,960.88 618.50,958.80 C619.10,956.83 619.70,951.00 620.30,951.00 C621.03,951.00 621.77,958.39 622.50,962.80 C623.30,967.61 624.10,979.30 624.90,979.30 C625.77,979.30 626.63,971.24 627.50,968.80 C628.43,966.18 629.37,964.16 630.30,962.80 C631.37,961.24 632.43,960.56 633.50,959.30 C635.17,957.33 636.83,954.69 638.50,952.80 C640.33,950.72 642.17,949.77 644.00,947.30 C645.70,945.01 647.40,936.90 649.10,936.90 C649.90,936.90 650.70,942.06 651.50,944.80 C652.33,947.65 653.17,953.70 654.00,953.70 C654.93,953.70 655.87,950.00 656.80,950.00 C657.53,950.00 658.27,955.87 659.00,957.80 C659.80,959.91 660.60,962.80 661.40,962.80 C662.60,962.80 663.80,960.13 665.00,958.80" fill="none" stroke="#007a00" stroke-width="3.5" stroke-linejoin="round" stroke-linecap="round"/>
<line x1="125.4" y1="718.9" x2="124.1" y2="865.5" stroke="#050a10" stroke-width="2.3" stroke-dasharray="2.3,2.4"/>
<line x1="475.7" y1="715" x2="473.4" y2="931.5" stroke="#050a10" stroke-width="2.3" stroke-dasharray="2.3,2.4"/>
<line x1="509.4" y1="722" x2="505.6" y2="939.5" stroke="#050a10" stroke-width="2.3" stroke-dasharray="2.3,2.4"/>
<text x="294.6" y="43.7" font-size="20.80" fill="#cc0000" font-weight="bold" text-anchor="start">Pure PET</text>
<text x="313.0" y="229.9" font-size="20.60" fill="#000080" font-weight="bold" text-anchor="start">Pure PS</text>
<text x="201.2" y="161.0" font-size="20.80" fill="#ee0000" font-weight="bold">3439 <tspan dx="0.8" letter-spacing="0.20">cm</tspan><tspan font-size="13.52" dx="0.6" dy="-9.0">-1</tspan></text>
<text x="402.4" y="198.7" font-size="20.80" fill="#ee0000" font-weight="bold">1645 <tspan dx="0.8" letter-spacing="0.20">cm</tspan><tspan font-size="13.52" dx="0.6" dy="-9.0">-1</tspan></text>
<text x="547.8" y="115.9" font-size="20.80" fill="#ee0000" font-weight="bold">1383 <tspan dx="0.8" letter-spacing="0.20">cm</tspan><tspan font-size="13.52" dx="0.6" dy="-9.0">-1</tspan></text>
<text x="265.0" y="363.4" font-size="20.80" fill="#0000ee" font-weight="bold">2908 <tspan dx="0.8" letter-spacing="0.20">cm</tspan><tspan font-size="13.52" dx="0.6" dy="-9.0">-1</tspan></text>
<text x="226.5" y="396.0" font-size="20.80" fill="#0000ee" font-weight="bold">3074 <tspan dx="0.8" letter-spacing="0.20">cm</tspan><tspan font-size="13.52" dx="0.6" dy="-9.0">-1</tspan></text>
<text x="371.3" y="389.2" font-size="20.80" fill="#0000ee" font-weight="bold">1952 <tspan dx="0.8" letter-spacing="0.20">cm</tspan><tspan font-size="13.52" dx="0.6" dy="-9.0">-1</tspan></text>
<text x="210.5" y="446.6" font-size="20.80" fill="#0000ee" font-weight="bold">3458 <tspan dx="0.8" letter-spacing="0.20">cm</tspan><tspan font-size="13.52" dx="0.6" dy="-9.0">-1</tspan></text>
<text x="409.8" y="453.5" font-size="20.80" fill="#0000ee" font-weight="bold">1599 <tspan dx="0.8" letter-spacing="0.20">cm</tspan><tspan font-size="13.52" dx="0.6" dy="-9.0">-1</tspan></text>
<text x="495.2" y="428.7" font-size="20.80" fill="#0000ee" font-weight="bold">1451 <tspan dx="0.8" letter-spacing="0.20">cm</tspan><tspan font-size="13.52" dx="0.6" dy="-9.0">-1</tspan></text>
<text x="573.4" y="451.7" font-size="20.80" fill="#0000ee" font-weight="bold">693 <tspan dx="0.8" letter-spacing="0.20">cm</tspan><tspan font-size="13.52" dx="0.6" dy="-9.0">-1</tspan></text>
<line x1="198.0" y1="166.8" x2="170.7" y2="198.6" stroke="#ee0000" stroke-width="1.7"/><polygon points="164.8,205.4 168.7,195.5 174.0,200.1" fill="#ee0000"/>
<line x1="484.7" y1="174.6" x2="472.9" y2="169.4" stroke="#ee0000" stroke-width="1.7"/><polygon points="464.7,165.8 475.3,166.6 472.4,173.0" fill="#ee0000"/>
<line x1="541.2" y1="114.8" x2="523.7" y2="128.9" stroke="#ee0000" stroke-width="1.7"/><polygon points="516.7,134.6 522.3,125.6 526.7,131.0" fill="#ee0000"/>
<line x1="206.9" y1="437.3" x2="170.0" y2="427.4" stroke="#0000ee" stroke-width="1.7"/><polygon points="161.3,425.1 171.9,424.3 170.1,431.1" fill="#0000ee"/>
<line x1="238.6" y1="372.2" x2="224.6" y2="349.5" stroke="#0000ee" stroke-width="1.7"/><polygon points="219.9,341.8 228.1,348.5 222.2,352.2" fill="#0000ee"/>
<line x1="260.3" y1="355.8" x2="252.2" y2="340.9" stroke="#0000ee" stroke-width="1.7"/><polygon points="247.9,333.0 255.8,340.1 249.6,343.5" fill="#0000ee"/>
<line x1="404.1" y1="371.0" x2="408.4" y2="354.0" stroke="#0000ee" stroke-width="1.7"/><polygon points="410.6,345.3 411.5,355.9 404.8,354.1" fill="#0000ee"/>
<line x1="454.6" y1="430.1" x2="461.6" y2="418.6" stroke="#0000ee" stroke-width="1.7"/><polygon points="466.3,410.9 464.1,421.3 458.1,417.6" fill="#0000ee"/>
<line x1="531.3" y1="410.5" x2="507.7" y2="398.6" stroke="#0000ee" stroke-width="1.7"/><polygon points="499.7,394.6 510.2,396.0 507.1,402.2" fill="#0000ee"/>
<text x="267.2" y="529.0" font-size="23.30" fill="#000" font-weight="normal" text-anchor="start" word-spacing="1">Wavenumber [cm<tspan font-size="15.15" dx="-0.6" dy="-10.0">-1</tspan><tspan font-size="23.30" dy="10.0">]</tspan></text>
<text x="343.2" y="566.5" font-size="24.80" fill="#000" font-weight="normal" text-anchor="middle">(a)</text>
<text transform="translate(35.6,233.9) rotate(-90)" font-size="23.3" text-anchor="middle" fill="#000">Transmittance [a.u.]</text>
<text x="203.0" y="666.3" font-size="23.30" fill="#0000ee" font-weight="normal" text-anchor="start">PS/Cu-Ni MOF/POC Composite</text>
<text x="260.8" y="713.0" font-size="23.20" fill="#e8802a" font-weight="normal" text-anchor="start">Cu-Ni MOF/POC</text>
<text x="262.4" y="794.2" font-size="23.00" fill="#f000f0" font-weight="normal" text-anchor="start">Pure Cu/Ni MOF</text>
<text x="219.8" y="935.3" font-size="23.40" fill="#0a7a0a" font-weight="normal" text-anchor="start">Terephthalic acid</text>
<text x="78.2" y="656.7" font-size="22.80" fill="#111" font-weight="normal">3453 <tspan dx="1.3" letter-spacing="0.50">cm</tspan><tspan font-size="15.73" dx="-1.0" dy="-9.6">-1</tspan></text>
<text x="580.4" y="791.9" font-size="22.80" fill="#111" font-weight="normal">874 <tspan dx="1.3" letter-spacing="0.50">cm</tspan><tspan font-size="15.73" dx="-1.0" dy="-9.6">-1</tspan></text>
<text x="367.9" y="883.5" font-size="22.80" fill="#111" font-weight="normal">1584 <tspan dx="1.3" letter-spacing="0.50">cm</tspan><tspan font-size="15.73" dx="-1.0" dy="-9.6">-1</tspan></text>
<text x="89.8" y="909.5" font-size="22.80" fill="#111" font-weight="normal">3571 <tspan dx="1.3" letter-spacing="0.50">cm</tspan><tspan font-size="15.73" dx="-1.0" dy="-9.6">-1</tspan></text>
<text x="327.4" y="1025.8" font-size="22.80" fill="#111" font-weight="normal">1683 <tspan dx="1.3" letter-spacing="0.50">cm</tspan><tspan font-size="15.73" dx="-1.0" dy="-9.6">-1</tspan></text>
<text x="448.8" y="1031.7" font-size="22.80" fill="#111" font-weight="normal">1424 <tspan dx="1.3" letter-spacing="0.50">cm</tspan><tspan font-size="15.73" dx="-1.0" dy="-9.6">-1</tspan></text>
<text x="552.9" y="1013.6" font-size="22.80" fill="#111" font-weight="normal">1284 <tspan dx="1.3" letter-spacing="0.50">cm</tspan><tspan font-size="15.73" dx="-1.0" dy="-9.6">-1</tspan></text>
<text x="510.2" y="925.2" font-size="22.80" fill="#111" font-weight="normal" text-anchor="start">1398</text>
<text x="580.4" y="928.3" font-size="22.80" fill="#111" font-weight="normal" text-anchor="start">880</text>
<text x="620.3" y="891.7" font-size="22.80" fill="#111" font-weight="normal" text-anchor="start">730</text>
<line x1="134.9" y1="666.9" x2="145.2" y2="696.1" stroke="#080c10" stroke-width="1.5"/><polygon points="148.6,705.8 141.6,696.3 148.1,694.0" fill="#080c10"/>
<line x1="143.6" y1="887.5" x2="136.3" y2="866.1" stroke="#080c10" stroke-width="1.5"/><polygon points="133.0,856.4 139.9,866.0 133.4,868.2" fill="#080c10"/>
<line x1="629.8" y1="769.3" x2="612.4" y2="762.6" stroke="#080c10" stroke-width="1.5"/><polygon points="602.8,758.9 614.6,759.8 612.1,766.1" fill="#080c10"/>
<line x1="437.9" y1="891.5" x2="459.1" y2="910.4" stroke="#080c10" stroke-width="1.5"/><polygon points="466.8,917.2 456.1,912.2 460.6,907.2" fill="#080c10"/>
<line x1="596.8" y1="907.8" x2="596.9" y2="897.9" stroke="#080c10" stroke-width="1.5"/><polygon points="597.0,887.6 600.3,898.9 593.5,898.9" fill="#080c10"/>
<line x1="421.1" y1="1010.9" x2="442.3" y2="999.9" stroke="#080c10" stroke-width="1.5"/><polygon points="451.4,995.2 442.9,1003.4 439.8,997.4" fill="#080c10"/>
<line x1="501.5" y1="1014.0" x2="501.3" y2="992.5" stroke="#080c10" stroke-width="1.5"/><polygon points="501.2,982.2 504.7,993.5 497.9,993.5" fill="#080c10"/>
<line x1="551.7" y1="1006.0" x2="536.9" y2="1001.3" stroke="#080c10" stroke-width="1.5"/><polygon points="527.1,998.2 538.9,998.4 536.8,1004.9" fill="#080c10"/>
<text x="255.0" y="1120.5" font-size="25.80" fill="#000" font-weight="normal" text-anchor="start">Wavenumber [cm<tspan font-size="16.00" dx="0.0" dy="-12.0">-1</tspan><tspan font-size="25.80" dy="12.0">]</tspan></text>
<text x="343.5" y="1155.0" font-size="25.50" fill="#000" font-weight="normal" text-anchor="middle">(b)</text>
<text transform="translate(21.9,815.2) rotate(-90)" font-size="25.8" text-anchor="middle" fill="#000">Transmittance [a.u.]</text>
<defs><pattern id="hb" width="3.55" height="3.55" patternUnits="userSpaceOnUse" patternTransform="rotate(45)"><rect width="3.55" height="3.55" fill="#2c9ee1"/><rect width="2.5" height="2.5" fill="#91d7f8"/></pattern><pattern id="hg" width="3.55" height="3.55" patternUnits="userSpaceOnUse" patternTransform="rotate(45)"><rect width="3.55" height="3.55" fill="#c6ecd8"/><rect width="2.5" height="2.5" fill="#def4e4"/></pattern></defs>
<ellipse cx="129.5" cy="778.2" rx="28.6" ry="108.4" fill="url(#hb)" opacity="0.3"/>
<rect x="443.8" y="673" width="93.1" height="258.3" fill="url(#hg)" style="mix-blend-mode:multiply"/>
</svg></body></html>
